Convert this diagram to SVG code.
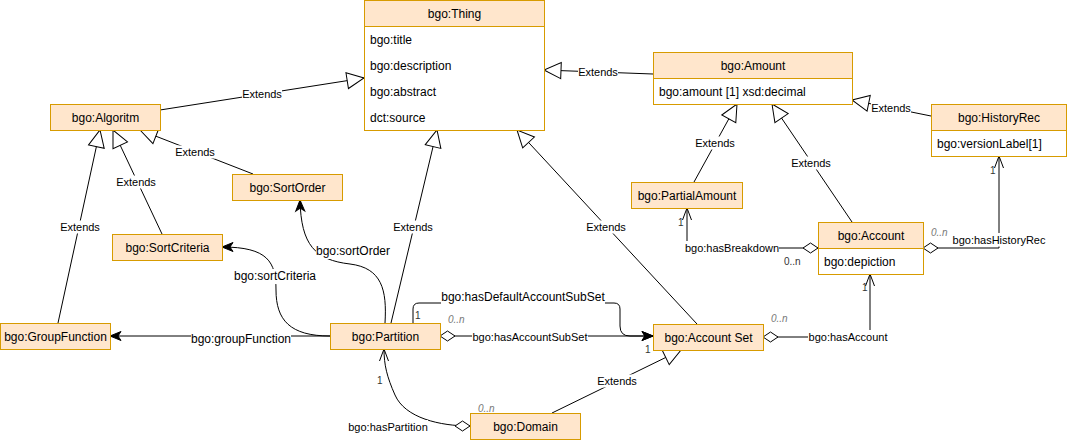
<svg xmlns="http://www.w3.org/2000/svg" width="1067" height="440" viewBox="0 0 1067 440">
<style>
text{font-family:"Liberation Sans",Arial,Helvetica,sans-serif;fill:#000}
.n{font-size:12px}
.c{text-anchor:middle}
.box{fill:#ffe6cc;stroke:#d79b00;stroke-width:1}
.body{fill:#fff;stroke:#d79b00;stroke-width:1}
.e{fill:none;stroke:#000;stroke-width:1}
.ext{marker-end:url(#ext)}
.lb{fill:#fff}
.l11{font-size:11px;text-anchor:middle}
.l12{font-size:12px;text-anchor:middle}
.m{font-size:10px;fill:#333}
.mi{font-size:10px;fill:#777;font-style:italic}
</style>
<defs>
<marker id="ext" markerUnits="userSpaceOnUse" markerWidth="20" markerHeight="20" refX="17" refY="8" orient="auto" overflow="visible"><path d="M0,0 L17,8 L0,16 Z" fill="#fff" stroke="#000" stroke-width="1"/></marker>
<marker id="open" markerUnits="userSpaceOnUse" markerWidth="14" markerHeight="12" refX="12" refY="5" orient="auto" overflow="visible"><path d="M0,0.5 L12,5 L0,9.5" fill="none" stroke="#000" stroke-width="1"/></marker>
<marker id="cls" markerUnits="userSpaceOnUse" markerWidth="12" markerHeight="10" refX="11" refY="4.5" orient="auto" overflow="visible"><path d="M0,0 L11,4.5 L0,9 L3,4.5 Z" fill="#000" stroke="#000" stroke-width="1"/></marker>
<marker id="dia" markerUnits="userSpaceOnUse" markerWidth="16" markerHeight="12" refX="0" refY="5" orient="auto" overflow="visible"><path d="M0,5 L7.5,0 L15,5 L7.5,10 Z" fill="#fff" stroke="#000" stroke-width="1"/></marker>
</defs>

<g id="connectors">
  <!-- Extends (generalization) -->
  <path class="e ext" d="M160,110 L364,78"/>
  <path class="e ext" d="M253,174 L140,130"/>
  <path class="e ext" d="M162,234 L113,130"/>
  <path class="e ext" d="M58,323 L100,130"/>
  <path class="e ext" d="M391,323 L437,130"/>
  <path class="e ext" d="M697,324 L517,130"/>
  <path class="e ext" d="M653,74 L544,70"/>
  <path class="e ext" d="M694,182 L737,104"/>
  <path class="e ext" d="M852,222 L772,104"/>
  <path class="e ext" d="M931,116 L852,100"/>
  <path class="e ext" d="M552,413 L681,350"/>
  <!-- associations -->
  <path class="e" d="M330,336 L110,336" marker-end="url(#cls)"/>
  <path class="e" d="M330,336 C290,336 276,320 276,290 C276,262 268,247 222,247" marker-end="url(#cls)"/>
  <path class="e" d="M385,323 C387,290 382,268 350,264 C315,260 301,245 300,200" marker-end="url(#cls)"/>
  <path class="e" d="M440,336 L653,336" marker-start="url(#dia)" marker-end="url(#cls)"/>
  <path class="e" d="M413,323 L413,309 Q413,303 419,303 L614,303 Q620,303 620,309 L620,326 Q620,336 630,336 L653,336" marker-end="url(#cls)"/>
  <path class="e" d="M470,426 C440,426 405,418 395,395 C387,377 384,365 384,349" marker-start="url(#dia)" marker-end="url(#open)"/>
  <path class="e" d="M818,248 L687,248 L687,208" marker-start="url(#dia)" marker-end="url(#open)"/>
  <path class="e" d="M923,248 L999,248 L999,156" marker-start="url(#dia)" marker-end="url(#open)"/>
  <path class="e" d="M763,337 L870,337 L870,274" marker-start="url(#dia)" marker-end="url(#open)"/>

  <!-- labels -->
  <g>
    <rect class="lb" x="242" y="87.5" width="40" height="13"/><text class="l11" x="262" y="98">Extends</text>
    <rect class="lb" x="175" y="145.5" width="40" height="13"/><text class="l11" x="195" y="156">Extends</text>
    <rect class="lb" x="116" y="175.5" width="40" height="13"/><text class="l11" x="136" y="186">Extends</text>
    <rect class="lb" x="60" y="220.5" width="40" height="13"/><text class="l11" x="80" y="231">Extends</text>
    <rect class="lb" x="393" y="220.5" width="40" height="13"/><text class="l11" x="413" y="231">Extends</text>
    <rect class="lb" x="586" y="220.5" width="40" height="13"/><text class="l11" x="606" y="231">Extends</text>
    <rect class="lb" x="578" y="65.5" width="40" height="13"/><text class="l11" x="598" y="76">Extends</text>
    <rect class="lb" x="695" y="136.5" width="40" height="13"/><text class="l11" x="715" y="147">Extends</text>
    <rect class="lb" x="791" y="156.5" width="40" height="13"/><text class="l11" x="811" y="167">Extends</text>
    <rect class="lb" x="871" y="101.5" width="40" height="13"/><text class="l11" x="891" y="112">Extends</text>
    <rect class="lb" x="597" y="374.5" width="40" height="13"/><text class="l11" x="617" y="385">Extends</text>

    <rect class="lb" x="191" y="331" width="100" height="15"/><text class="l12" x="241" y="343">bgo:groupFunction</text>
    <rect class="lb" x="234" y="269" width="82" height="15"/><text class="l12" x="275" y="280">bgo:sortCriteria</text>
    <rect class="lb" x="316" y="244" width="74" height="15"/><text class="l12" x="353" y="255">bgo:sortOrder</text>
    <rect class="lb" x="472" y="330" width="116" height="14"/><text class="l11" x="530" y="341">bgo:hasAccountSubSet</text>
    <rect class="lb" x="441" y="290" width="164" height="14.5"/><text class="l12" x="523" y="301">bgo:hasDefaultAccountSubSet</text>
    <rect class="lb" x="348" y="420" width="80" height="14"/><text class="l11" x="388" y="431">bgo:hasPartition</text>
    <rect class="lb" x="685" y="241" width="94" height="14"/><text class="l11" x="732" y="252">bgo:hasBreakdown</text>
    <rect class="lb" x="952" y="233" width="94" height="13.5"/><text class="l11" x="999" y="244">bgo:hasHistoryRec</text>
    <rect class="lb" x="808" y="330" width="80" height="14"/><text class="l11" x="848" y="341">bgo:hasAccount</text>

    <text class="m" x="678" y="226">1</text>
    <text class="m" x="784" y="265">0..n</text>
    <text class="m" x="990" y="174">1</text>
    <text class="mi" x="931" y="236">0..n</text>
    <text class="m" x="862" y="291">1</text>
    <text class="mi" x="771" y="322">0..n</text>
    <text class="mi" x="448" y="323">0..n</text>
    <text class="m" x="645" y="353">1</text>
    <text class="m" x="415" y="319">1</text>
    <text class="m" x="377" y="384">1</text>
    <text class="mi" x="478" y="412">0..n</text>
  </g>
</g>

<g id="thing">
  <rect class="body" x="364.5" y="0.5" width="180" height="130"/>
  <rect class="box" x="364.5" y="0.5" width="180" height="26"/>
  <text class="n c" x="454.5" y="18">bgo:Thing</text>
  <text class="n" x="370" y="44">bgo:title</text>
  <text class="n" x="370" y="70">bgo:description</text>
  <text class="n" x="370" y="96">bgo:abstract</text>
  <text class="n" x="370" y="122">dct:source</text>
</g>
<g id="amount">
  <rect class="body" x="653.5" y="52.5" width="199" height="52"/>
  <rect class="box" x="653.5" y="52.5" width="199" height="26"/>
  <text class="n c" x="753" y="70">bgo:Amount</text>
  <text class="n" x="659" y="96">bgo:amount [1] xsd:decimal</text>
</g>
<g id="historyrec">
  <rect class="body" x="931.5" y="104.5" width="135" height="52"/>
  <rect class="box" x="931.5" y="104.5" width="135" height="26"/>
  <text class="n c" x="999" y="122">bgo:HistoryRec</text>
  <text class="n" x="937" y="148">bgo:versionLabel[1]</text>
</g>
<g id="account">
  <rect class="body" x="818.5" y="222.5" width="105" height="52"/>
  <rect class="box" x="818.5" y="222.5" width="105" height="26"/>
  <text class="n c" x="871" y="240">bgo:Account</text>
  <text class="n" x="824" y="266">bgo:depiction</text>
</g>
<g id="algoritm">
  <rect class="box" x="50.5" y="104.5" width="110" height="26"/>
  <text class="n c" x="105.5" y="122">bgo:Algoritm</text>
</g>
<g id="sortorder">
  <rect class="box" x="232.5" y="174.5" width="110" height="26"/>
  <text class="n c" x="287.5" y="192">bgo:SortOrder</text>
</g>
<g id="sortcriteria">
  <rect class="box" x="112.5" y="234.5" width="110" height="26"/>
  <text class="n c" x="167.5" y="252">bgo:SortCriteria</text>
</g>
<g id="groupfunction">
  <rect class="box" x="0.5" y="323.5" width="110" height="26"/>
  <text class="n c" x="55.5" y="341">bgo:GroupFunction</text>
</g>
<g id="partition">
  <rect class="box" x="330.5" y="323.5" width="110" height="26"/>
  <text class="n c" x="385.5" y="341">bgo:Partition</text>
</g>
<g id="accountset">
  <rect class="box" x="653.5" y="324.5" width="110" height="26"/>
  <text class="n c" x="708.5" y="342">bgo:Account Set</text>
</g>
<g id="domain">
  <rect class="box" x="470.5" y="413.5" width="110" height="26"/>
  <text class="n c" x="525.5" y="431">bgo:Domain</text>
</g>
<g id="partialamount">
  <rect class="box" x="631.5" y="182.5" width="111" height="26"/>
  <text class="n c" x="687" y="200">bgo:PartialAmount</text>
</g>
</svg>
